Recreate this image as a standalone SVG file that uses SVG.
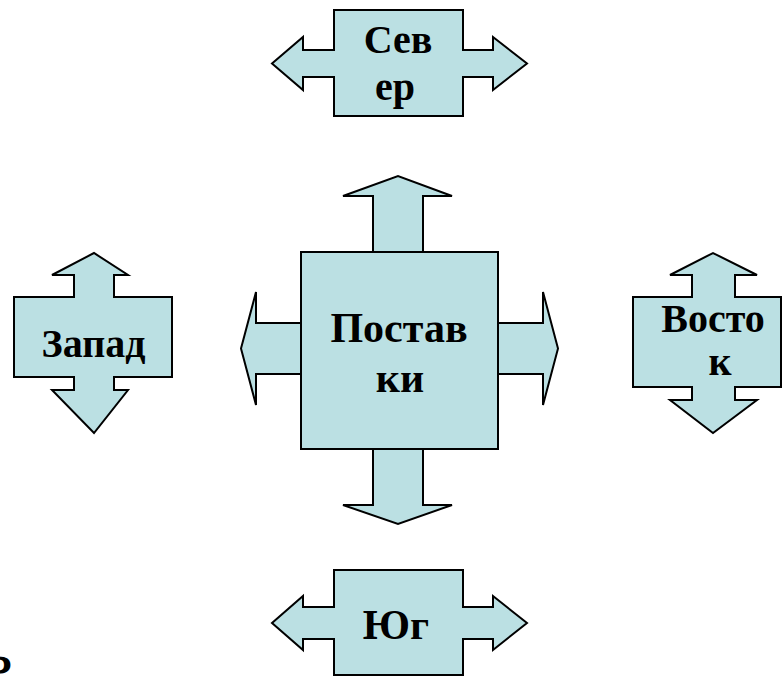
<svg xmlns="http://www.w3.org/2000/svg" width="782" height="676" viewBox="0 0 782 676">
<style>
.shape{fill:#bbe0e3;stroke:#000;stroke-width:2;stroke-linejoin:miter}
.lbl{font-family:"Liberation Serif","Times New Roman",serif;font-weight:bold;font-size:40px;fill:#000;text-anchor:middle}
.big{font-size:42px}
</style>
<rect width="782" height="676" fill="#fff"/>
<g id="connectors">
<path class="shape" d="M373,252 V196 H343 L398,176 L452,196 H423 V252 Z"/>
<path class="shape" d="M373,449 V505 H343 L398,524 L452,505 H423 V449 Z"/>
<path class="shape" d="M301,323 H256 V292 L241,348.5 L256,405 V374 H301 Z"/>
<path class="shape" d="M498,323 H543 V292 L558,348.5 L543,405 V374 H498 Z"/>
</g>
<g id="north">
<path class="shape" d="M334,10 H463 V50 H493 V37 L527,63.5 L493,90 V77 H463 V116 H334 V77 H303 V90 L272,63.5 L303,37 V50 H334 Z"/>
<text class="lbl" x="398" y="53">Сев</text>
<text class="lbl" x="395" y="100">ер</text>
</g>
<g id="center">
<rect class="shape" x="301" y="252" width="197" height="197"/>
<text class="lbl big" x="399" y="342">Постав</text>
<text class="lbl big" x="400" y="392">ки</text>
</g>
<g id="west">
<path class="shape" d="M14,297 H74 V275 H52 L94,253 L128,275 H114 V297 H172 V377 H114 V390 H128 L94,433 L52,390 H74 V377 H14 Z"/>
<text class="lbl" x="93.5" y="357">Запад</text>
</g>
<g id="east">
<path class="shape" d="M633,297 H692 V275 H670 L713,253 L757,275 H735 V297 H781 V387 H735 V400 H757 L713,433 L670,400 H692 V387 H633 Z"/>
<text class="lbl" x="713" y="332">Восто</text>
<text class="lbl" x="720" y="375">к</text>
</g>
<g id="south">
<path class="shape" d="M334,570 H463 V607 H493 V596 L527,623 L493,650 V639 H463 V675 H334 V639 H303 V650 L272,623 L303,596 V607 H334 Z"/>
<text class="lbl big" x="396" y="639">Юг</text>
</g>
<text x="-9.5" y="673" transform="scale(1.6,1)" font-family="Liberation Sans, Arial, sans-serif" font-size="30" fill="#000" stroke="#000" stroke-width="1.2">о</text>
</svg>
